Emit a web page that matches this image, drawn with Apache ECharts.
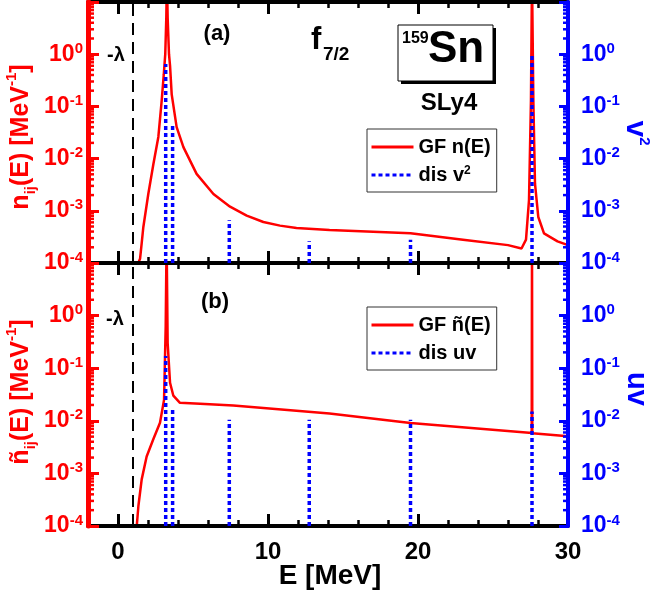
<!DOCTYPE html>
<html><head><meta charset="utf-8">
<script src="https://cdn.jsdelivr.net/npm/echarts@6/dist/echarts.min.js"></script>
<style>html,body{margin:0;padding:0;background:#fff}#c{width:655px;height:596px}</style>
</head><body><div id="c"></div>
<script>
const FONT = '"Liberation Sans", Arial, Helvetica, sans-serif';

// ---- data ----
const E_TOP = [1.35,1.47,1.58,1.69,2.02,2.36,2.69,2.91,3.05,3.15,3.22,3.26,3.31,3.40,3.47,3.58,3.91,4.36,5.24,6.36,7.47,8.58,9.69,10.8,11.9,14.1,19.5,23,26,26.9,27.2,27.4,27.53,27.6,27.69,27.8,28.02,28.4,29.3,30];
const N_TOP = [1e-4,1.2e-4,2.4e-4,4.9e-4,2.1e-3,7.9e-3,0.026,0.126,0.4,1.0,5,30,5,1.0,0.6,0.17,0.04,0.0166,5.1e-3,2.1e-3,1.2e-3,8.1e-4,6.1e-4,5.2e-4,4.7e-4,4.3e-4,3.7e-4,2.8e-4,2.2e-4,1.9e-4,2.8e-4,1.6e-3,0.13,30,0.13,3.3e-3,7.6e-4,3.7e-4,2.6e-4,2.2e-4];
const E_BOT = [1.25,1.36,1.58,1.91,2.36,2.8,3.07,3.18,3.24,3.31,3.47,3.69,4.13,5.47,7.69,14.1,19.5,27.4,27.58,27.6,27.62,30];
const N_BOT = [1e-4,2.4e-4,7.7e-4,2.1e-3,4.5e-3,9.2e-3,0.025,0.63,30,0.3,0.053,0.030,0.022,0.021,0.0195,0.0138,0.0091,0.0059,0.0059,30,0.0058,0.0051];
const DIS_E = [3.18,3.64,7.42,12.75,19.5,27.6];
const V2 = [0.65,0.043,6.6e-4,2.6e-4,2.8e-4,1.0];
const UV = [0.17,0.016,0.0105,0.0105,0.0105,0.015];
const LAMBDA = 1.0;
const X_LABELS = [0,10,20,30];
const X_SMALL_TICKS = [-2,0,2,4,6,8,10,12,14,16,18,20,22,24,26,28,30];
const Y_MIN = 1e-4, Y_MAX = 10;
const MANTISSAS = [2,3,4,5,6,7,8,9];
const DECADES = [1e-4,1e-3,1e-2,1e-1,1];
const Y_MINOR = [];
DECADES.forEach(d => MANTISSAS.forEach(m => Y_MINOR.push(m * d)));

const RED = '#ff0000', BLUE = '#0000ff';

function logFmt(v) {
  const e = Math.round(Math.log10(v));
  if (e > 0) return '';
  return '{b|10}{s|' + e + '}';
}
function richFor(color) {
  return {
    b: {fontSize: 23, fontWeight: 'bold', color: color, fontFamily: FONT, lineHeight: 26},
    s: {fontSize: 15, fontWeight: 'bold', color: color, fontFamily: FONT, lineHeight: 18, verticalAlign: 'top'}
  };
}

const GRIDS = [
  {left: 88, width: 480, top: 2, height: 261},
  {left: 88, width: 480, top: 263, height: 263}
];
const grid = [GRIDS[0], GRIDS[1], GRIDS[0], GRIDS[1]];

const xAxis = [];
const yAxis = [];
[0,1].forEach(g => {
  ['bottom','top'].forEach(pos => {
    xAxis.push({
      type: 'value', gridIndex: g, position: pos, min: -2, max: 30,
      axisLine: {show: true, onZero: false, lineStyle: {color: '#000', width: 4}},
      axisTick: {show: true, inside: true, length: 12, customValues: X_LABELS, lineStyle: {color: '#000', width: 3}},
      axisLabel: {show: g === 1 && pos === 'bottom', customValues: X_LABELS, margin: 14,
        fontSize: 24, fontWeight: 'bold', color: '#000', fontFamily: FONT},
      splitLine: {show: false}, z: 3
    });
  });
});
[2,3].forEach(g => {
  ['bottom','top'].forEach(pos => {
    xAxis.push({
      type: 'value', gridIndex: g, position: pos, min: -2, max: 30,
      axisLine: {show: false, onZero: false},
      axisTick: {show: true, inside: true, length: 6, customValues: X_SMALL_TICKS, lineStyle: {color: '#000', width: 2.5}},
      axisLabel: {show: false},
      splitLine: {show: false}, z: 3
    });
  });
});
[0,1].forEach(g => {
  yAxis.push({
    type: 'log', logBase: 10, gridIndex: g, position: 'left', min: Y_MIN, max: Y_MAX,
    axisLine: {show: true, onZero: false, lineStyle: {color: RED, width: 5}},
    axisTick: {show: true, inside: true, length: 11, lineStyle: {color: RED, width: 3}},
    axisLabel: {show: true, margin: 5, formatter: logFmt, rich: richFor(RED)},
    splitLine: {show: false}, z: 5
  });
  yAxis.push({
    type: 'log', logBase: 10, gridIndex: g, position: 'right', min: Y_MIN, max: Y_MAX,
    axisLine: {show: true, onZero: false, lineStyle: {color: BLUE, width: 4}},
    axisTick: {show: true, inside: true, length: 9, lineStyle: {color: BLUE, width: 3}},
    axisLabel: {show: true, margin: 13, formatter: logFmt, rich: richFor(BLUE)},
    splitLine: {show: false}, z: 5
  });
});
[2,3].forEach(g => {
  yAxis.push({type: 'log', gridIndex: g, min: Y_MIN, max: Y_MAX, show: false});
});

function zip(a, b) { return a.map((x, i) => [x, b[i]]); }

const lambdaLine = {
  silent: true, symbol: ['none','none'], label: {show: false},
  lineStyle: {color: '#000', type: [12,7], width: 2},
  data: [{xAxis: LAMBDA}]
};

function minorTickSeries(xIdx, yIdx) {
  return {
    type: 'custom', xAxisIndex: xIdx, yAxisIndex: yIdx, silent: true, z: 6,
    data: Y_MINOR.map(v => [-2, v]),
    renderItem: function (params, api) {
      const v = api.value(1);
      const pl = api.coord([-2, v]);
      const pr = api.coord([30, v]);
      return {type: 'group', children: [
        {type: 'line', shape: {x1: pl[0], y1: pl[1], x2: pl[0] + 6, y2: pl[1]}, style: {stroke: RED, lineWidth: 2.5}},
        {type: 'line', shape: {x1: pr[0], y1: pr[1], x2: pr[0] - 5, y2: pr[1]}, style: {stroke: BLUE, lineWidth: 2.5}}
      ]};
    }
  };
}

const series = [
  {type: 'line', name: 'GF n(E)', xAxisIndex: 0, yAxisIndex: 0, data: zip(E_TOP, N_TOP),
   symbol: 'none', lineStyle: {color: RED, width: 2.5}, itemStyle: {color: RED}, z: 2, markLine: lambdaLine},
  {type: 'line', name: 'GF ñ(E)', xAxisIndex: 2, yAxisIndex: 2, data: zip(E_BOT, N_BOT),
   symbol: 'none', lineStyle: {color: RED, width: 2.5}, itemStyle: {color: RED}, z: 2, markLine: lambdaLine},
  minorTickSeries(0, 0),
  minorTickSeries(2, 2)
];
const dotStyle = {color: BLUE, width: 3.5, type: [4, 3]};
DIS_E.forEach((e, i) => {
  series.push({type: 'line', name: 'dis v2', xAxisIndex: 0, yAxisIndex: 1, data: [[e, Y_MIN], [e, V2[i]]],
    symbol: 'none', lineStyle: dotStyle, itemStyle: {color: BLUE}, z: 3});
  series.push({type: 'line', name: 'dis uv', xAxisIndex: 2, yAxisIndex: 3, data: [[e, Y_MIN], [e, UV[i]]],
    symbol: 'none', lineStyle: dotStyle, itemStyle: {color: BLUE}, z: 3});
});

function legendCfg(top, names) {
  return {
    left: 367, top: top, orient: 'vertical', selectedMode: false,
    data: names, borderColor: '#333', borderWidth: 1, padding: [8,6,7,3], itemGap: 8,
    itemWidth: 42, itemHeight: 20, itemStyle: {opacity: 0},
    lineStyle: {width: 3},
    formatter: n => n === 'dis v2' ? 'dis v{s|2}' : n,
    textStyle: {fontSize: 20, fontWeight: 'bold', color: '#000', fontFamily: FONT, lineHeight: 20,
      rich: {s: {fontSize: 12, fontWeight: 'bold', color: '#000', fontFamily: FONT, lineHeight: 12, verticalAlign: 'top'}}}
  };
}

const T = (o) => Object.assign({fontFamily: FONT, fontWeight: 'bold', fill: '#000'}, o);
const titleRich = (c, big) => ({
  n: {fontSize: big, fontWeight: 'bold', fill: c, fontFamily: FONT, lineHeight: 34},
  sub: {fontSize: 15, fontWeight: 'bold', fill: c, fontFamily: FONT, lineHeight: 15, verticalAlign: 'bottom'},
  sup: {fontSize: 15, fontWeight: 'bold', fill: c, fontFamily: FONT, lineHeight: 20, verticalAlign: 'top'}
});

const graphic = [
  {type: 'text', x: 217, y: 34, style: T({text: '(a)', fontSize: 22, align: 'center', verticalAlign: 'middle'})},
  {type: 'text', x: 215, y: 302, style: T({text: '(b)', fontSize: 22, align: 'center', verticalAlign: 'middle'})},
  {type: 'text', x: 116, y: 55, style: T({text: '-λ', fontSize: 20, align: 'center', verticalAlign: 'middle'})},
  {type: 'text', x: 115, y: 319, style: T({text: '-λ', fontSize: 20, align: 'center', verticalAlign: 'middle'})},
  {type: 'text', x: 311, y: 56, style: T({text: 'f', fontSize: 31, align: 'left', verticalAlign: 'bottom'})},
  {type: 'text', x: 323, y: 64, style: T({text: '7/2', fontSize: 19, align: 'left', verticalAlign: 'bottom'})},
  {type: 'rect', shape: {x: 401, y: 28, width: 95, height: 56}, style: {fill: '#000'}},
  {type: 'rect', shape: {x: 398, y: 25, width: 95, height: 56}, style: {fill: '#fff', stroke: '#000', lineWidth: 1}},
  {type: 'text', x: 402, y: 31, style: T({text: '159', fontSize: 16, align: 'left', verticalAlign: 'top'})},
  {type: 'text', x: 428, y: 72, style: T({text: 'Sn', fontSize: 44, align: 'left', verticalAlign: 'bottom'})},
  {type: 'text', x: 449, y: 103, style: T({text: 'SLy4', fontSize: 24, align: 'center', verticalAlign: 'middle'})},
  {type: 'text', x: 21, y: 137, rotation: Math.PI / 2, style: T({
    text: '{n|n}{sub|ij}{n|(E) [MeV}{sup|-1}{n|]}', align: 'center', verticalAlign: 'middle', fill: RED,
    rich: titleRich(RED, 25)})},
  {type: 'text', x: 21, y: 392, rotation: Math.PI / 2, style: T({
    text: '{n|ñ}{sub|ij}{n|(E) [MeV}{sup|-1}{n|]}', align: 'center', verticalAlign: 'middle', fill: RED,
    rich: titleRich(RED, 25)})},
  {type: 'text', x: 635, y: 133, rotation: -Math.PI / 2, style: T({
    text: '{n|v}{sup|2}', align: 'center', verticalAlign: 'middle', fill: BLUE,
    rich: titleRich(BLUE, 30)})},
  {type: 'text', x: 636, y: 389, rotation: -Math.PI / 2, style: T({
    text: 'uv', fontSize: 29, align: 'center', verticalAlign: 'middle', fill: BLUE})},
  {type: 'text', x: 330, y: 576, style: T({text: 'E [MeV]', fontSize: 28, align: 'center', verticalAlign: 'middle'})}
];

const chart = echarts.init(document.getElementById('c'), null, {renderer: 'canvas'});
chart.setOption({
  animation: false,
  backgroundColor: '#fff',
  textStyle: {fontFamily: FONT},
  grid: grid,
  xAxis: xAxis,
  yAxis: yAxis,
  legend: [legendCfg(129, ['GF n(E)', 'dis v2']), legendCfg(307, ['GF ñ(E)', 'dis uv'])],
  series: series,
  graphic: graphic
});
</script></body></html>
